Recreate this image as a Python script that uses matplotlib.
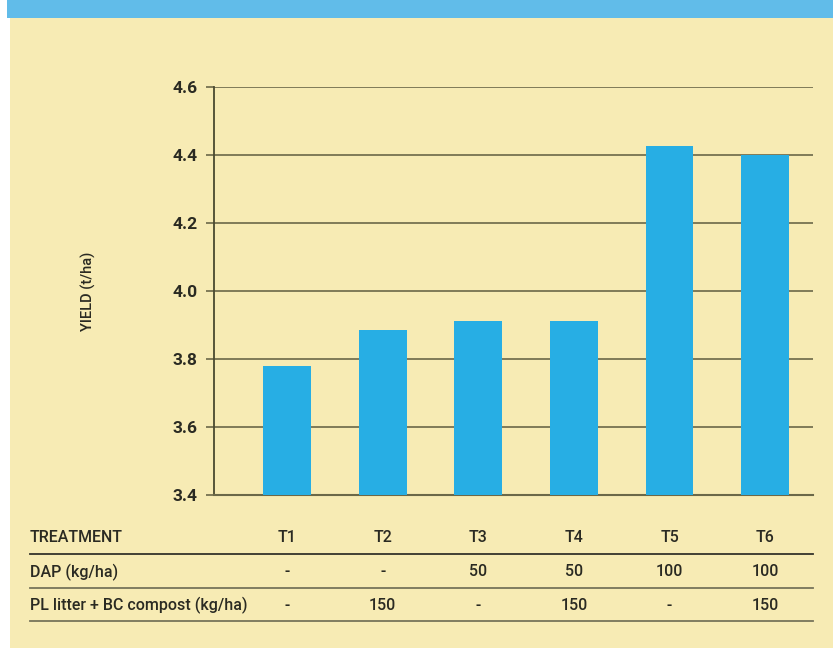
import matplotlib
matplotlib.use('Agg')
import matplotlib.pyplot as plt
import matplotlib.transforms as mtransforms
from matplotlib.patches import Rectangle
from matplotlib.lines import Line2D

treatments = ['T1', 'T2', 'T3', 'T4', 'T5', 'T6']
yields = [3.78, 3.885, 3.912, 3.912, 4.426, 4.40]
dap = ['-', '-', '50', '50', '100', '100']
pl_litter = ['-', '150', '-', '150', '-', '150']
y_ticks = [3.4, 3.6, 3.8, 4.0, 4.2, 4.4, 4.6]

W, H = 833, 648
bg = '#F7EBB4'
band = '#61BCE9'
bar_color = '#27AEE4'
grid_color = '#6b6848'
text_color = '#2a2a22'

plt.rcParams['font.family'] = ['Roboto', 'DejaVu Sans']

fig = plt.figure(figsize=(W / 100, H / 100), dpi=100)
fig.patch.set_facecolor('white')


def fx(px):
    return px / W


def fy(py):
    return 1 - py / H


# yellow panel and blue top band
fig.patches.append(Rectangle((fx(10), 0), 1 - fx(10), 1, transform=fig.transFigure,
                             facecolor=bg, edgecolor='none', zorder=-2))
fig.patches.append(Rectangle((fx(7), fy(18)), 1 - fx(7), fy(0) - fy(18), transform=fig.transFigure,
                             facecolor=band, edgecolor='none', zorder=-1))

ax = fig.add_axes([fx(214), fy(495), fx(813) - fx(214), fy(87) - fy(495)])
ax.set_zorder(2)
ax.set_facecolor('none')
x = list(range(len(treatments)))
ax.bar(x, yields, width=0.5, color=bar_color, zorder=3)
ax.set_xlim(-0.764, 5.5)
ax.set_ylim(3.4, 4.6)
ax.set_yticks(y_ticks)
ax.set_yticklabels([f'{v:.1f}' for v in y_ticks], fontsize=12.5, fontweight='bold', color=text_color)
ax.set_xticks([])
ax.grid(axis='y', color=grid_color, linewidth=1.2, zorder=1)
ax.set_axisbelow(True)
ax.tick_params(axis='y', length=6, width=1.2, color=grid_color, pad=6)
for side in ['top', 'right']:
    ax.spines[side].set_visible(False)
ax.spines['left'].set_color('#4a4a30')
ax.spines['left'].set_linewidth(1.3)
ax.spines['bottom'].set_color(grid_color)
ax.spines['bottom'].set_linewidth(1.5)

fig.text(fx(88), fy(291), 'YIELD (t/ha)', rotation=90, ha='center', va='center',
         fontsize=10.5, fontweight='medium', color=text_color, zorder=3)

# table beneath the chart
trans = mtransforms.blended_transform_factory(ax.transData, fig.transFigure)
rows = [('TREATMENT', treatments, 538), ('DAP (kg/ha)', dap, 572),
        ('PL litter + BC compost (kg/ha)', pl_litter, 605)]
for label, values, ypx in rows:
    fig.text(fx(30), fy(ypx), label, ha='left', va='center', fontsize=11.5,
             fontweight='medium', color=text_color, zorder=3)
    for i, v in enumerate(values):
        fig.text(i, fy(ypx), v, transform=trans, ha='center', va='center',
                 fontsize=11.5, fontweight='medium', color=text_color, zorder=3)

for ypx, col in [(554, '#33332a'), (588, '#77745a'), (621, '#77745a')]:
    fig.add_artist(Line2D([fx(30), fx(813)], [fy(ypx), fy(ypx)], transform=fig.transFigure,
                          color=col, linewidth=1.3, zorder=3))

fig.savefig('out.png', dpi=100, facecolor=fig.get_facecolor())
